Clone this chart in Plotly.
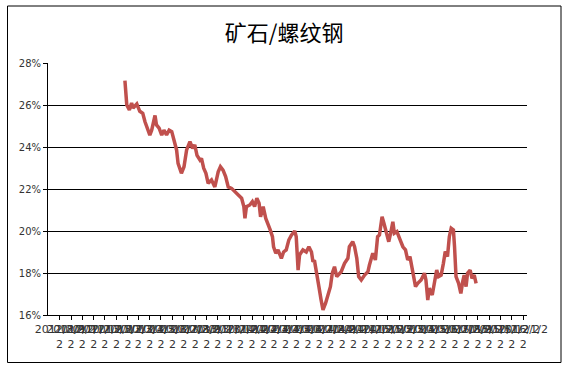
import plotly.graph_objects as go
import pandas as pd

title_text = "矿石/螺纹钢"

# sampling dates: days after base date
base_date = "2012-08-02"
days = [196, 201, 208, 214, 218, 228, 236, 244, 250, 254, 263, 268, 272, 277, 281, 288, 295, 301, 308, 315,
        322, 328, 335, 339, 348, 355, 362, 371, 378, 384, 390, 398, 402, 408, 414, 420, 429, 438, 447, 453,
        460, 467, 474, 483, 492, 500, 510, 516, 519, 523, 532, 539, 545, 551, 557, 561, 568, 575, 581, 587,
        593, 596, 602, 608, 617, 623, 630, 637, 644, 653, 657, 662, 666, 675, 684, 691, 698, 702, 706, 711,
        718, 724, 729, 736, 742, 749, 754, 760, 766, 774, 778, 787, 796, 800, 809, 814, 820, 825, 832, 841,
        850, 854, 863, 870, 876, 881, 888, 893, 899, 906, 912, 917, 921, 928, 935, 944, 951, 957, 963, 970,
        978, 984, 993, 1002, 1006, 1011, 1015, 1023, 1029, 1035, 1040, 1047, 1053, 1058, 1064, 1069, 1074, 1080, 1083, 1087,
        1094, 1100, 1105, 1109, 1114, 1118, 1125, 1130, 1136, 1141]

ratio = [27.16, 26.0, 25.76, 26.1, 25.86, 26.05, 25.7, 25.6, 25.2, 24.97, 24.57, 24.8, 25.2, 25.5, 25.05, 24.9, 24.57, 24.8, 24.57, 24.8,
         24.73, 24.33, 23.86, 23.22, 22.75, 23.06, 23.86, 24.25, 23.94, 24.1, 23.6, 23.38, 23.46, 22.99, 22.75, 22.27, 22.43, 22.1, 22.82, 23.06,
         22.9, 22.59, 22.1, 22.03, 21.87, 21.71, 21.56, 21.16, 20.6, 21.16, 21.24, 21.4, 21.16, 21.56, 21.32, 20.68, 21.16, 20.6, 20.37, 20.05,
         19.73, 19.25, 18.94, 19.1, 18.7, 19.0, 19.1, 19.57, 19.8, 20.0, 19.73, 18.14, 18.86, 19.1, 19.0, 19.25, 19.0, 18.54, 18.6, 17.99,
         17.35, 16.71, 16.24, 16.56, 16.87, 17.35, 17.99, 18.3, 17.83, 17.99, 18.06, 18.46, 18.7, 19.25, 19.49, 19.25, 18.7, 17.83, 17.67, 17.9,
         18.06, 18.38, 18.94, 18.62, 19.73, 19.81, 20.68, 20.37, 19.97, 19.49, 19.97, 20.44, 19.89, 19.97, 19.65, 19.25, 19.1, 18.62, 18.78, 17.99,
         17.35, 17.51, 17.67, 17.99, 17.67, 16.71, 17.27, 16.95, 17.51, 18.14, 17.83, 17.9, 18.46, 19.02, 18.78, 19.73, 20.13, 20.05, 19.25, 17.83,
         17.51, 17.03, 17.59, 17.9, 17.35, 17.99, 18.14, 17.75, 17.9, 17.51]

# monthly tick marks and their (wrapped) labels
tick_dates = pd.date_range("2012-07-22", "2016-01-22", freq="MS") + pd.Timedelta(days=21)
tick_text = [f"{d.year}/{d.month}/2<br>2" for d in tick_dates]
x_range = ["2012-07-22", "2016-02-01"]
y_ticks = [16, 18, 20, 22, 24, 26, 28]

dates = pd.Timestamp(base_date) + pd.to_timedelta(days, unit="D")

fig = go.Figure()
fig.add_trace(go.Scatter(
    x=dates, y=ratio, mode="lines",
    line=dict(color="#C0504D", width=3.5),
    showlegend=False, hoverinfo="skip",
))

fig.update_layout(
    width=566, height=370,
    margin=dict(l=48, r=39, t=63, b=55, autoexpand=False),
    paper_bgcolor="white", plot_bgcolor="white",
    title=dict(text=title_text, x=0.502, xref="container", y=1 - 33 / 370, yref="container",
               xanchor="center", yanchor="middle",
               font=dict(family="Noto Sans CJK SC", size=22, color="black")),
    font=dict(family="DejaVu Sans", size=10, color="#333333"),
    xaxis=dict(
        type="date", range=x_range, automargin=False,
        tickmode="array", tickvals=list(tick_dates), ticktext=tick_text,
        tickangle=0, ticks="outside", ticklen=4, tickcolor="black", tickwidth=1,
        showline=True, linecolor="black", linewidth=1,
        showgrid=False, zeroline=False,
        tickfont=dict(family="DejaVu Sans", size=11, color="#333333"),
    ),
    yaxis=dict(
        range=[16, 28], tickvals=y_ticks, ticktext=[f"{v}%" for v in y_ticks], automargin=False,
        ticks="outside", ticklen=4, tickcolor="black", tickwidth=1,
        showline=True, linecolor="black", linewidth=1,
        showgrid=True, gridcolor="black", gridwidth=1, zeroline=False,
        tickfont=dict(family="DejaVu Sans", size=10, color="#333333"),
    ),
    shapes=[dict(type="rect", xref="paper", yref="paper",
                 x0=(7.5 - 48) / 479, x1=(561 - 48) / 479,
                 y0=(315 - 362.5) / 252, y1=(315 - 6) / 252,
                 line=dict(color="black", width=1), fillcolor="rgba(0,0,0,0)", layer="below")],
)

fig.write_html("out.html", config={"displayModeBar": False},
               post_script="document.body.style.margin='0';document.body.style.overflow='hidden';")
